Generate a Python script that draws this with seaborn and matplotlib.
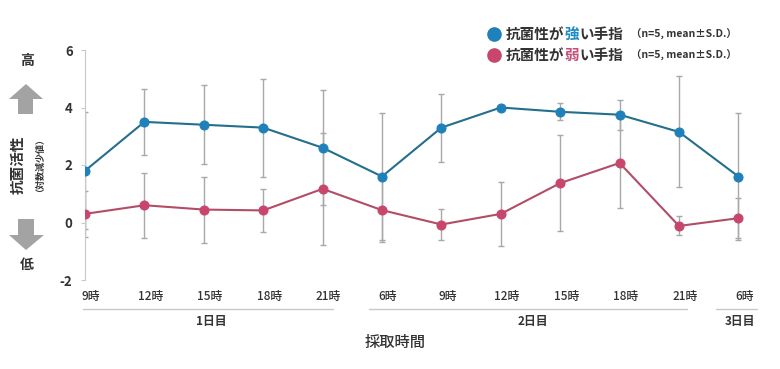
import matplotlib
matplotlib.use("Agg")
import matplotlib.pyplot as plt
import matplotlib.transforms as mtransforms
from matplotlib.patches import Polygon
import seaborn as sns
import pandas as pd
import numpy as np

# ---- data ----
time_labels = ["9時", "12時", "15時", "18時", "21時", "6時", "9時", "12時", "15時", "18時", "21時", "6時"]
strong_mean = [1.8, 3.5, 3.4, 3.3, 2.6, 1.6, 3.3, 4.0, 3.85, 3.75, 3.15, 1.6]
strong_sd = [2.03, 1.15, 1.37, 1.7, 2.0, 2.2, 1.18, 0.05, 0.3, 0.52, 1.93, 2.2]
weak_mean = [0.3, 0.6, 0.45, 0.42, 1.17, 0.43, -0.07, 0.3, 1.37, 2.07, -0.12, 0.15]
weak_sd = [0.8, 1.13, 1.15, 0.74, 1.95, 1.1, 0.55, 1.1, 1.66, 1.57, 0.33, 0.7]
day_labels = ["1日目", "2日目", "3日目"]
yticks = [-2, 0, 2, 4, 6]

sns.set_theme(style="white")
FONT = ["Noto Sans CJK JP", "DejaVu Sans"]
plt.rcParams["font.family"] = FONT

W, H = 780, 369
fig = plt.figure(figsize=(W / 100, H / 100), dpi=100)

def fx(px):
    return px / W

def fy(py):
    return 1 - py / H

# axes: x=0 at px 85, spacing 59.4 px; y: 6 at px 50, -2 at px 280
ax_left, ax_right = 85, 748
ax = fig.add_axes([fx(ax_left), fy(280), fx(ax_right - ax_left), (280 - 50) / H])
step = 59.4
ax.set_xlim(0, (ax_right - ax_left) / step)
ax.set_ylim(-2, 6)

x = np.arange(len(time_labels))
df = pd.DataFrame({
    "x": np.concatenate([x, x]),
    "y": strong_mean + weak_mean,
    "group": ["strong"] * len(x) + ["weak"] * len(x),
})

BLUE_M, BLUE_L = "#1f80ba", "#236f8c"
RED_M, RED_L = "#c8466b", "#b24d67"
GRAY_E = "#a8a8a8"

ax.errorbar(x, strong_mean, yerr=strong_sd, fmt="none", ecolor=GRAY_E, elinewidth=1.0, capsize=2, capthick=1.0, zorder=1)
ax.errorbar(x, weak_mean, yerr=weak_sd, fmt="none", ecolor=GRAY_E, elinewidth=1.0, capsize=2, capthick=1.0, zorder=1)

sns.lineplot(data=df[df.group == "strong"], x="x", y="y", ax=ax, color=BLUE_L, lw=1.5,
             marker="o", markersize=6.5, markerfacecolor=BLUE_M, markeredgecolor=BLUE_M, zorder=3, legend=False)
sns.lineplot(data=df[df.group == "weak"], x="x", y="y", ax=ax, color=RED_L, lw=1.5,
             marker="o", markersize=6.5, markerfacecolor=RED_M, markeredgecolor=RED_M, zorder=3, legend=False)

ax.set_xlabel("")
ax.set_ylabel("")
for s in ["top", "right", "bottom"]:
    ax.spines[s].set_visible(False)
ax.spines["left"].set_color("#c8c8c8")
ax.spines["left"].set_linewidth(0.8)
ax.set_yticks(yticks)
ax.set_yticklabels([str(v) for v in yticks], fontsize=9.5, color="#333333", fontweight="bold", family=FONT)
ax.tick_params(axis="y", length=3, color="#c8c8c8", width=0.8, pad=6, left=True)
ax.set_xticks(x)
ax.set_xticklabels(time_labels, fontsize=8.5, color="#333333", family=FONT, fontweight="medium")
ax.tick_params(axis="x", length=0, pad=7)
offset = mtransforms.ScaledTranslation(6 / 100, 0, fig.dpi_scale_trans)
for lab in ax.get_xticklabels():
    lab.set_transform(lab.get_transform() + offset)

# day brackets
line_px = [(83, 333), (369, 687), (716, 757)]
label_px = [211, 533, 740]
for (a, b), lx, lab in zip(line_px, label_px, day_labels):
    fig.add_artist(plt.Line2D([fx(a), fx(b)], [fy(309), fy(309)], color="#c8c8c8", lw=1.0, transform=fig.transFigure))
    fig.text(fx(lx), fy(321), lab, ha="center", va="center", fontsize=8.5, color="#333333", fontweight="bold")

fig.text(fx(395), fy(342), "採取時間", ha="center", va="center", fontsize=11, color="#333333", fontweight="medium")

# left side labels
fig.text(fx(27), fy(61), "高", ha="center", va="center", fontsize=10, fontweight="bold", color="#333333")
fig.text(fx(27), fy(265), "低", ha="center", va="center", fontsize=10, fontweight="bold", color="#333333")
fig.text(fx(18), fy(165), "抗菌活性", ha="center", va="center", rotation=90, fontsize=10.5, fontweight="bold", color="#333333")
fig.text(fx(35), fy(160), "（対数減少値）", ha="center", va="center", rotation=90, fontsize=6.5, fontweight="bold", color="#333333")

ARROW = "#a3a3a3"
up = [(9, 99), (26, 84), (43, 99), (33, 99), (33, 114), (18, 114), (18, 99)]
down = [(18, 219), (34, 219), (34, 235), (44, 235), (26, 250), (9, 235), (18, 235)]
for pts in (up, down):
    fig.add_artist(Polygon([(fx(a), fy(b)) for a, b in pts], closed=True, transform=fig.transFigure,
                           facecolor=ARROW, edgecolor="none"))

# legend (custom)
fig.canvas.draw()
renderer = fig.canvas.get_renderer()

def chain(x0, y0, parts, fs, weight):
    cur = x0
    for txt, col in parts:
        t = fig.text(fx(cur), fy(y0), txt, ha="left", va="center", fontsize=fs, color=col, fontweight=weight)
        bb = t.get_window_extent(renderer=renderer)
        cur += bb.width
    return cur

for yy, mcol, word, wcol in [(34, BLUE_M, "強", "#1f8ac4"), (55, RED_M, "弱", "#c2507a")]:
    fig.add_artist(plt.Line2D([fx(494)], [fy(yy)], marker="o", markersize=9.5, color=mcol,
                              markeredgecolor=mcol, lw=0, transform=fig.transFigure))
    end = chain(506, yy, [("抗菌性が", "#333333"), (word, wcol), ("い手指", "#333333")], 10.5, "bold")
    fig.text(fx(end + 8), fy(yy), "（n=5, mean±S.D.）", ha="left", va="center", fontsize=7.5, color="#333333", fontweight="bold")

fig.savefig("out.png", dpi=100)
